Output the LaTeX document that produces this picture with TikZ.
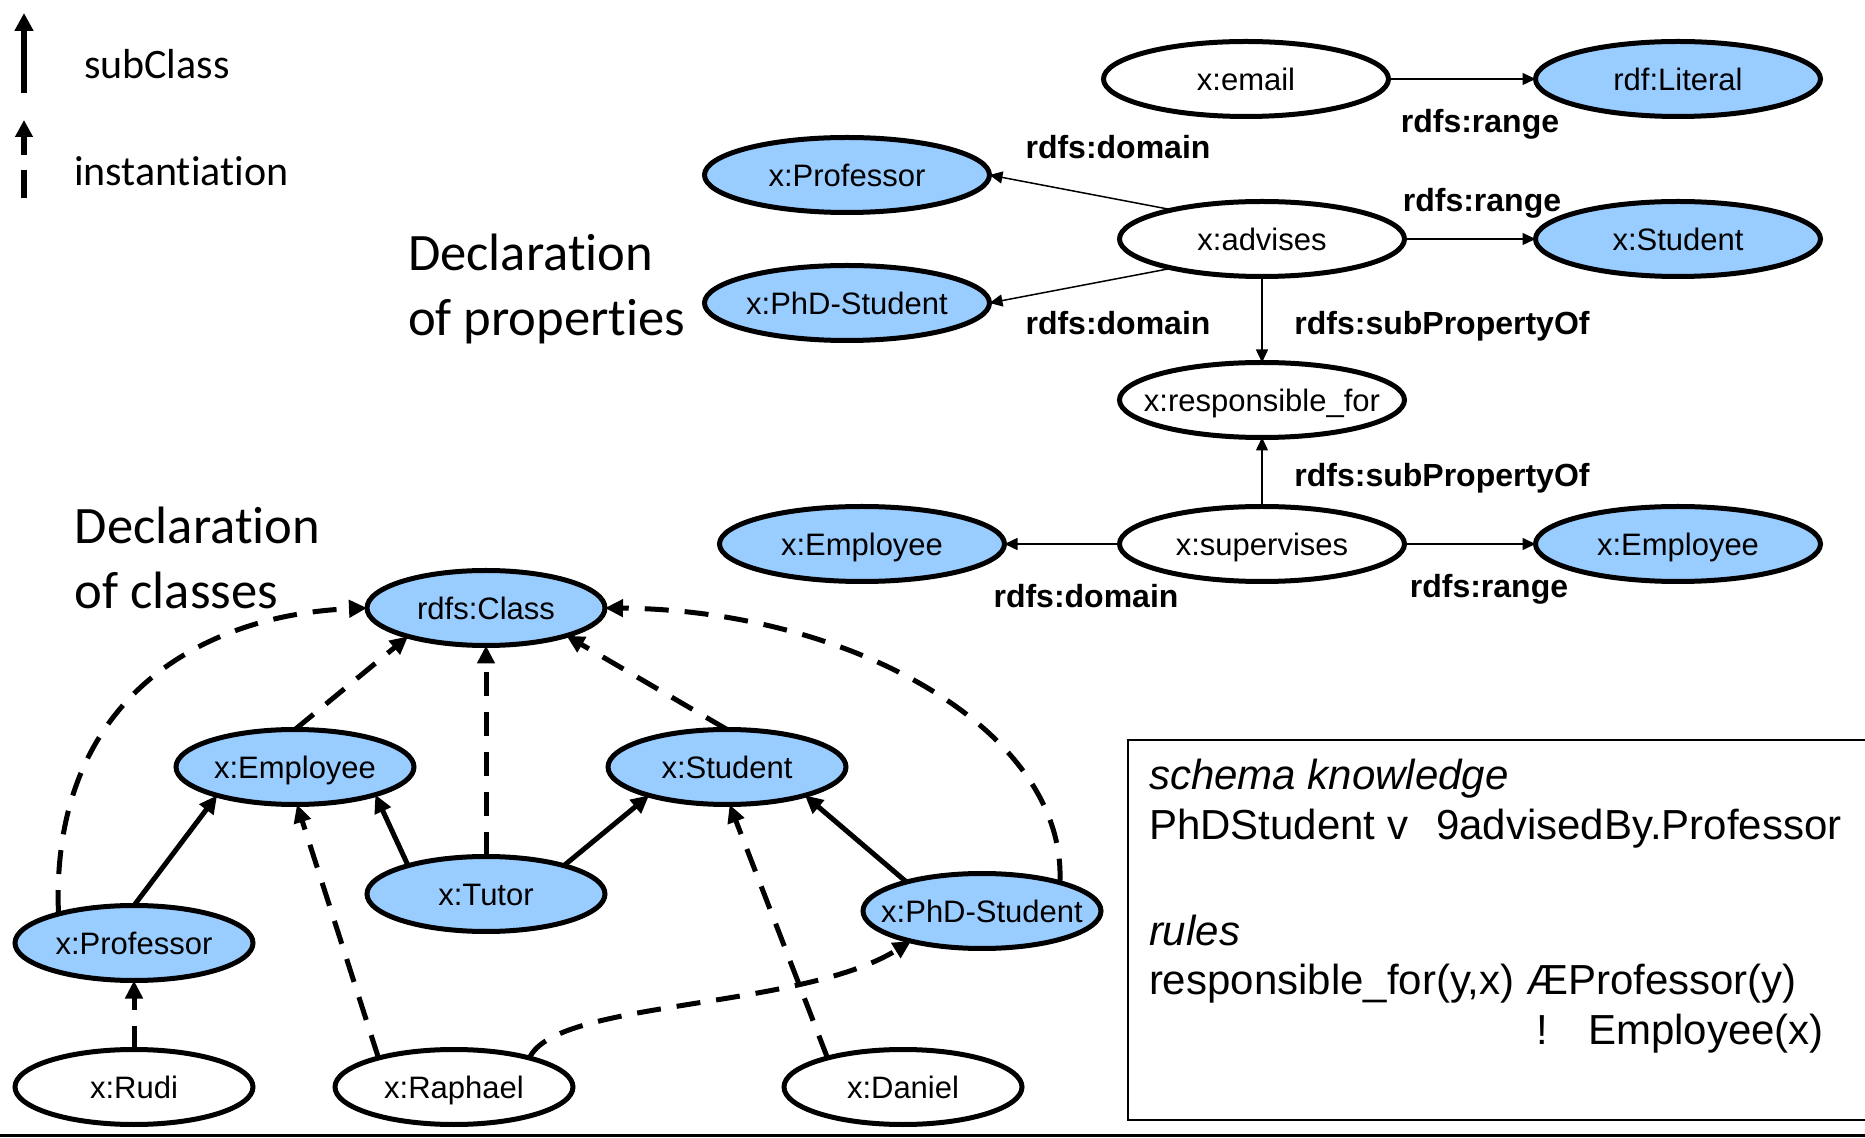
\documentclass[tikz,border=0pt]{standalone}
\usepackage{fontspec}
\setmainfont{Liberation Sans}
\newfontfamily\calibri{Carlito}[Ligatures=NoCommon]
\usetikzlibrary{arrows.meta,shapes.geometric}

\definecolor{classblue}{HTML}{99CCFF}

\begin{document}
\begin{tikzpicture}[x=0.5pt, y=-0.5pt,
  every node/.style={inner sep=0pt, outer sep=0pt},
  % node labels are set in a zero-width box so the ellipse keeps its fixed size
  nodetext/.style={font=\fontsize{15.5}{18}\selectfont, text height=11.2pt, text depth=0pt,
    execute at begin node={\hbox to 0pt\bgroup\hss}, execute at end node={\hss\egroup}},
  prop/.style={ellipse, draw, line width=2.5pt, fill=white, minimum width=142.5pt, minimum height=37.5pt, nodetext},
  propcls/.style={prop, fill=classblue},
  cls/.style={ellipse, draw, line width=2.5pt, fill=classblue, minimum width=119pt, minimum height=37.5pt, nodetext},
  inst/.style={cls, fill=white},
  rel/.style={font=\bfseries\fontsize{16}{19}\selectfont, text height=11.5pt, text depth=0pt},
  thinrel/.style={line width=0.75pt, -{Triangle[length=6.5pt,width=6pt]}},
  subcls/.style={line width=2.5pt, -{Triangle[length=9pt,width=8.5pt]}},
  instof/.style={subcls, dash pattern=on 12pt off 8pt},
  boxtext/.style={anchor=base west, font=\fontsize{21}{24}\selectfont},
  heading/.style={anchor=west, align=left, font=\calibri\fontsize{26.3}{32.5}\selectfont},
  legendtext/.style={anchor=west, font=\calibri\fontsize{21}{25}\selectfont, text height=14pt, text depth=0pt}
]
\useasboundingbox (0,0) rectangle (1865,1138);
\fill[white] (0,0) rectangle (1865,1138);

% ---------- legend ----------
\coordinate (subB) at (24,93);
\coordinate (subT) at (24,13);
\draw[line width=3pt, -{Triangle[length=9pt,width=9pt]}] (subB) -- (subT);
\node[legendtext] (subLbl) at (84,65) {subClass};
\coordinate (insB) at (24,198);
\coordinate (insT) at (24,120);
\draw[line width=3pt, dash pattern=on 14pt off 7.5pt, -{Triangle[length=8.5pt,width=8.5pt]}] (insB) -- (insT);
\node[legendtext] (insLbl) at (74,172) {instantiation};

% ---------- headings ----------
\node[heading] (hProps) at (408,289) {Declaration\\of properties};
\node[heading] (hClasses) at (75,558) {Declaration\\of classes};

% ---------- property declarations ----------
\node[prop]    (email)    at (1246,79)  {x:email};
\node[propcls] (literal)  at (1678,79)  {rdf:Literal};
\node[propcls] (profP)    at (847,175)  {x:Professor};
\node[prop]    (advises)  at (1262,239) {x:advises};
\node[propcls] (studP)    at (1678,239) {x:Student};
\node[propcls] (phdP)     at (847,303)  {x:PhD-Student};
\node[prop]    (resp)     at (1262,400) {x:responsible\_for};
\node[prop]    (superv)   at (1262,544) {x:supervises};
\node[propcls] (empL)     at (862,544)  {x:Employee};
\node[propcls] (empR)     at (1678,544) {x:Employee};

\draw[thinrel] (email) -- (literal);
\draw[thinrel] (advises.162) -- (profP.east);
\draw[thinrel] (advises.198) -- (phdP.east);
\draw[thinrel] (advises) -- (studP);
\draw[thinrel] (advises.south) -- (resp.north);
\draw[thinrel] (superv.north) -- (resp.south);
\draw[thinrel] (superv.west) -- (empL.east);
\draw[thinrel] (superv) -- (empR);

\node[rel] (r1) at (1480,121) {rdfs:range};
\node[rel] (d1) at (1118,147) {rdfs:domain};
\node[rel] (r2) at (1482,200) {rdfs:range};
\node[rel] (d2) at (1118,323) {rdfs:domain};
\node[rel] (s1) at (1442,323) {rdfs:subPropertyOf};
\node[rel] (s2) at (1442,475) {rdfs:subPropertyOf};
\node[rel] (d3) at (1086,596) {rdfs:domain};
\node[rel] (r3) at (1489,586) {rdfs:range};

% ---------- class declarations ----------
\node[cls]  (cls)     at (486,608)  {rdfs:Class};
\node[cls]  (empB)    at (295,767)  {x:Employee};
\node[cls]  (stuB)    at (727,767)  {x:Student};
\node[cls]  (tutor)   at (486,894)  {x:Tutor};
\node[cls]  (profB)   at (134,943)  {x:Professor};
\node[cls]  (phdB)    at (982,911)  {x:PhD-Student};
\node[inst] (rudi)    at (134,1087) {x:Rudi};
\node[inst] (raphael) at (454,1087) {x:Raphael};
\node[inst] (daniel)  at (903,1087) {x:Daniel};

% subclass links
\draw[subcls] (profB.north) -- (empB.200);
\draw[subcls] (tutor.160) -- (empB.341);
\draw[subcls] (tutor.20) -- (stuB.200);
\draw[subcls] (phdB.159) -- (stuB.340);

% instantiation links
\draw[instof] (empB.north) -- (cls.200);
\draw[instof] (tutor.north) -- (cls.south);
\draw[instof] (stuB.north) -- (cls.341);
\draw[instof] (profB.159) .. controls (50,700) and (200,615) .. (cls.west);
\draw[instof] (phdB.20) .. controls (1067,730) and (850,610) .. (cls.east);
\draw[instof] (rudi.north) -- (profB.south);
\draw[instof] (raphael.159) -- (empB.273);
\draw[instof] (daniel.159) -- (stuB.274);
\draw[instof] (raphael.21) .. controls (555,1000) and (800,1010) .. (phdB.203);

% ---------- schema box ----------
\draw[line width=1pt] (1128,740) rectangle (1920,1120);
\node[boxtext] (t1) at (1149,790) {\itshape schema knowledge};
\node[boxtext] (t2a) at (1149,840) {PhDStudent v};
\node[boxtext] (t2b) at (1436,840) {9advisedBy.Professor};
\node[boxtext] (t3) at (1149,945) {\itshape rules};
\node[boxtext] (t4a) at (1149,994) {responsible\_for(y,x)};
\node[boxtext] (t4b) at (1526,994) {ÆProfessor(y)};
\node[boxtext] (t5a) at (1536,1044) {!};
\node[boxtext] (t5b) at (1588,1044) {Employee(x)};

% bottom rule
\coordinate (ruleL) at (0,1135.5);
\coordinate (ruleR) at (1865,1135.5);
\draw[line width=1.5pt] (ruleL) -- (ruleR);
\end{tikzpicture}
\end{document}
